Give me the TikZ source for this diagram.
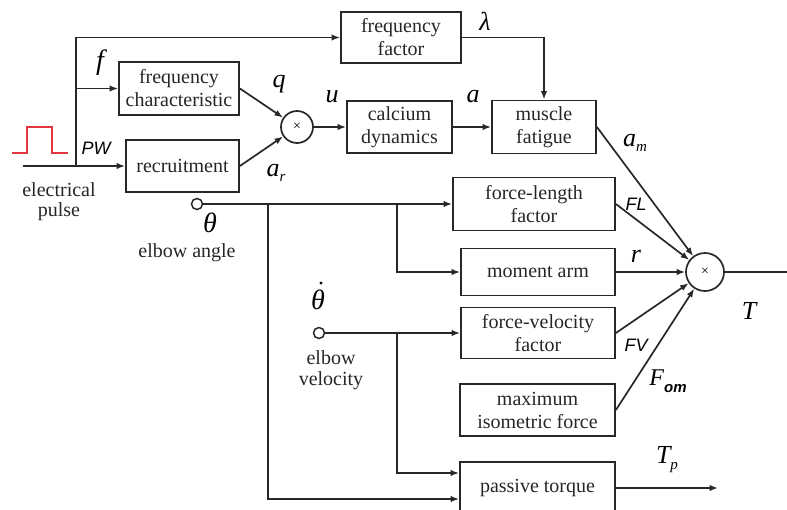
\documentclass[tikz,border=0pt]{standalone}
\usepackage{fontspec}
\setmainfont{Liberation Serif}
\newfontfamily\lsans{Liberation Sans}
\usetikzlibrary{arrows.meta}
\definecolor{ln}{RGB}{40,40,40}
\definecolor{pulsered}{RGB}{225,55,65}
\begin{document}
\begin{tikzpicture}[x=1pt,y=-1pt,
  blk/.style={draw=ln, line width=1.8pt, inner sep=0pt, align=center,
    font=\fontsize{20}{23}\selectfont, text=black!85},
  mult/.style={draw=ln, circle, line width=1.7pt, inner sep=0pt,
    font=\fontsize{14}{14}\selectfont},
  port/.style={draw=ln, circle, line width=1.5pt, minimum size=11pt, inner sep=0pt},
  wire/.style={draw=ln, line width=1.7pt},
  arr/.style={wire, -{Latex[length=8.5pt,width=6.5pt]}},
  lbl/.style={inner sep=0pt, font=\fontsize{26}{26}\selectfont\itshape},
  slbl/.style={inner sep=0pt, font=\fontsize{18}{18}\selectfont\lsans\itshape},
  txt/.style={inner sep=0pt, align=center, font=\fontsize{20}{23}\selectfont, text=black!85}]
\useasboundingbox (0,0) rectangle (787,509);
\clip (0,0) rectangle (787,509);

% blocks
\node[blk, minimum width=120pt, minimum height=51pt] (ff) at (401,37.5) {frequency\\factor};
\node[blk, minimum width=120pt, minimum height=53pt] (fc) at (179,88.5) {frequency\\characteristic};
\node[blk, minimum width=113pt, minimum height=52pt] (rec) at (182.5,166) {recruitment};
\node[blk, minimum width=105pt, minimum height=52pt] (cd) at (399.5,127) {calcium\\dynamics};
\node[blk, minimum width=104pt, minimum height=53pt] (mf) at (544,127) {muscle\\fatigue};
\node[blk, minimum width=162pt, minimum height=53pt] (fl) at (534,204) {force-length\\factor};
\node[blk, minimum width=154pt, minimum height=47pt] (ma) at (538,272) {moment arm};
\node[blk, minimum width=154pt, minimum height=51pt] (fv) at (538,333) {force-velocity\\factor};
\node[blk, minimum width=155pt, minimum height=52pt] (mif) at (537.5,410) {maximum\\isometric force};
\node[blk, minimum width=155pt, minimum height=52pt] (pt) at (537.5,488) {passive torque};

\node[mult, minimum size=32pt] (m1) at (297,127) {×};
\node[mult, minimum size=38pt] (m2) at (705,272) {×};

\node[port] (th) at (197,204) {};
\node[port] (thd) at (319,333) {};

% pulse
\draw[pulsered, line width=1.6pt] (12,153) -- (27,153) -- (27,127) -- (52,127) -- (52,153) -- (68,153);

% coordinates
\coordinate (in) at (23,166);
\coordinate (j1) at (76,166);
\coordinate (b1) at (268,204);
\coordinate (b2) at (397,204);
\coordinate (b3) at (397,333);
\coordinate (out) at (787,272);
\coordinate (tp) at (718,488);

% input connectors
\draw[arr] (in) -- (rec.west);
\draw[arr] (j1) |- (ff.west);
\draw[arr] (j1 |- fc.west) -- (fc.west);
\draw[arr] (fc.east) -- (m1);
\draw[arr] (rec.east) -- (m1);
\draw[arr] (m1) -- (cd.west);
\draw[arr] (cd.east) -- (mf.west);
\draw[arr] (ff.east) -| (mf.north);

% angle and velocity
\draw[arr] (th) -- (fl.west);
\draw[arr] (b1) |- ([yshift=-11pt]pt.west);
\draw[arr] (b2) |- (ma.west);
\draw[arr] (thd) -- (fv.west);
\draw[arr] (b3) |- ([yshift=15pt]pt.west);

% into second multiplier
\draw[arr] (mf.east) -- (m2);
\draw[arr] (fl.east) -- (m2);
\draw[arr] (ma.east) -- (m2);
\draw[arr] (fv.east) -- (m2);
\draw[arr] (mif.east) -- (m2);
\draw[wire] (m2) -- (out);
\draw[arr] (pt.east) -- (tp);

% labels
\node[lbl, font=\fontsize{28}{28}\selectfont\itshape] at (100,63) {f};
\node[slbl] at (96,148) {PW};
\node[txt] at (59,190) {electrical};
\node[txt] at (59,212) {pulse};
\node[lbl] at (279,84) {q};
\node[lbl] at (276,173) {a\raisebox{-5pt}{\fontsize{15}{15}\selectfont r}};
\node[lbl] at (332,97) {u};
\node[lbl] at (473,97) {a};
\node[lbl] at (485,21) {λ};
\node[lbl] at (635,143) {a\raisebox{-5pt}{\fontsize{15}{15}\selectfont m}};
\node[slbl] at (636,204) {FL};
\node[lbl] at (636,256) {r};
\node[slbl] at (636,345) {FV};
\node[lbl, font=\fontsize{24}{24}\selectfont\itshape] at (668,381) {F\raisebox{-7pt}{\fontsize{15}{15}\selectfont\lsans\bfseries\itshape om}};
\node[lbl] at (749,311) {T};
\node[lbl] at (667,460) {T\raisebox{-6pt}{\fontsize{15}{15}\selectfont p}};
\node[lbl, font=\fontsize{28}{28}\selectfont\itshape] at (210,223) {θ};
\node[txt] at (187,253) {elbow angle};
\node[lbl, font=\fontsize{28}{28}\selectfont\itshape] (thdl) at (318,300) {θ};
\fill[black] (321,283) circle (1.7pt);
\node[txt] at (331,358) {elbow};
\node[txt] at (331,381) {velocity};
\end{tikzpicture}
\end{document}
